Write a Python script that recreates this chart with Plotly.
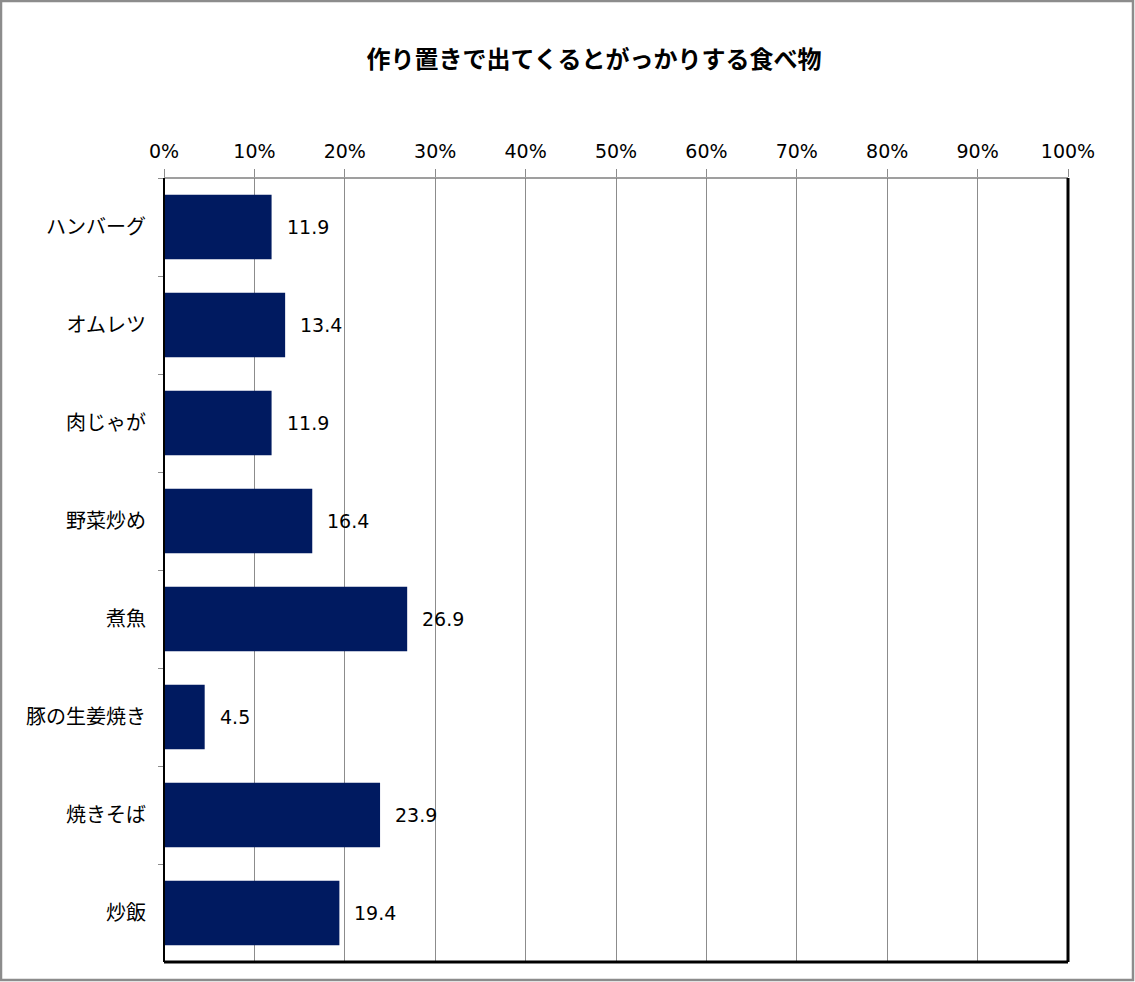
import plotly.graph_objects as go

categories = ["ハンバーグ", "オムレツ", "肉じゃが", "野菜炒め", "煮魚", "豚の生姜焼き", "焼きそば", "炒飯"]
values = [11.9, 13.4, 11.9, 16.4, 26.9, 4.5, 23.9, 19.4]
x_ticks = [0, 10, 20, 30, 40, 50, 60, 70, 80, 90, 100]
x_tick_labels = [f"{v}%" for v in x_ticks]
title = "作り置きで出てくるとがっかりする食べ物"

W, H = 1135, 982
L, R, T, B = 164, 1068, 178, 962
pw, ph = R - L, B - T

def px(x):
    return (x - L) / pw

def py(y):
    return (B - y) / ph

font = "DejaVu Sans, Noto Sans CJK JP, sans-serif"
cjk = "Noto Sans CJK JP, DejaVu Sans, sans-serif"

fig = go.Figure(go.Bar(
    x=values, y=categories, orientation="h",
    marker=dict(color="#001A60", line=dict(width=0)),
    width=0.66,
    hoverinfo="x+y",
))

for v, c in zip(values, categories):
    fig.add_annotation(x=v, y=c, xref="x", yref="y", text=f"{v:.1f}", showarrow=False,
                       xanchor="left", yanchor="middle", xshift=13,
                       font=dict(size=19, color="#000000", family=font))

fig.update_layout(
    width=W, height=H,
    margin=dict(l=L, r=W - R, t=T, b=H - B),
    paper_bgcolor="white", plot_bgcolor="white",
    title=dict(text=title, x=(594 / W), xref="container", xanchor="center",
               y=1 - 60 / H, yanchor="middle",
               font=dict(size=24, color="#000000", family=cjk, weight="bold")),
    showlegend=False,
    xaxis=dict(side="top", range=[0, 100], tickvals=x_ticks, ticktext=x_tick_labels,
               showgrid=True, gridcolor="#8C8C8C", gridwidth=1,
               ticks="outside", ticklen=8, tickcolor="#8C8C8C", tickwidth=1,
               ticklabelstandoff=3,
               tickfont=dict(size=19, color="#000000", family=font),
               showline=False, zeroline=False, fixedrange=True),
    yaxis=dict(autorange="reversed", tickson="boundaries", ticks="outside", ticklen=5,
               tickcolor="#8C8C8C", tickwidth=1, showgrid=False, zeroline=False,
               showline=False, ticklabelstandoff=17,
               tickfont=dict(size=20, color="#000000", family=cjk)),
    shapes=[
        dict(type="line", xref="paper", yref="paper", x0=0, x1=1, y0=1, y1=1,
             line=dict(color="#7F7F7F", width=1.5)),
        dict(type="line", xref="paper", yref="paper", x0=0, x1=0, y0=0, y1=1,
             line=dict(color="#000000", width=2)),
        dict(type="line", xref="paper", yref="paper", x0=0, x1=1, y0=0, y1=0,
             line=dict(color="#000000", width=3)),
        dict(type="line", xref="paper", yref="paper", x0=1, x1=1, y0=0, y1=1,
             line=dict(color="#000000", width=3)),
        dict(type="rect", xref="paper", yref="paper",
             x0=px(1), x1=px(1133), y0=py(980), y1=py(1),
             line=dict(color="#8C8C8C", width=2.5), fillcolor="rgba(0,0,0,0)"),
    ],
)

fig.write_html("out.html", config={"displayModeBar": False},
               post_script="document.body.style.margin='0';document.body.style.padding='0';")
